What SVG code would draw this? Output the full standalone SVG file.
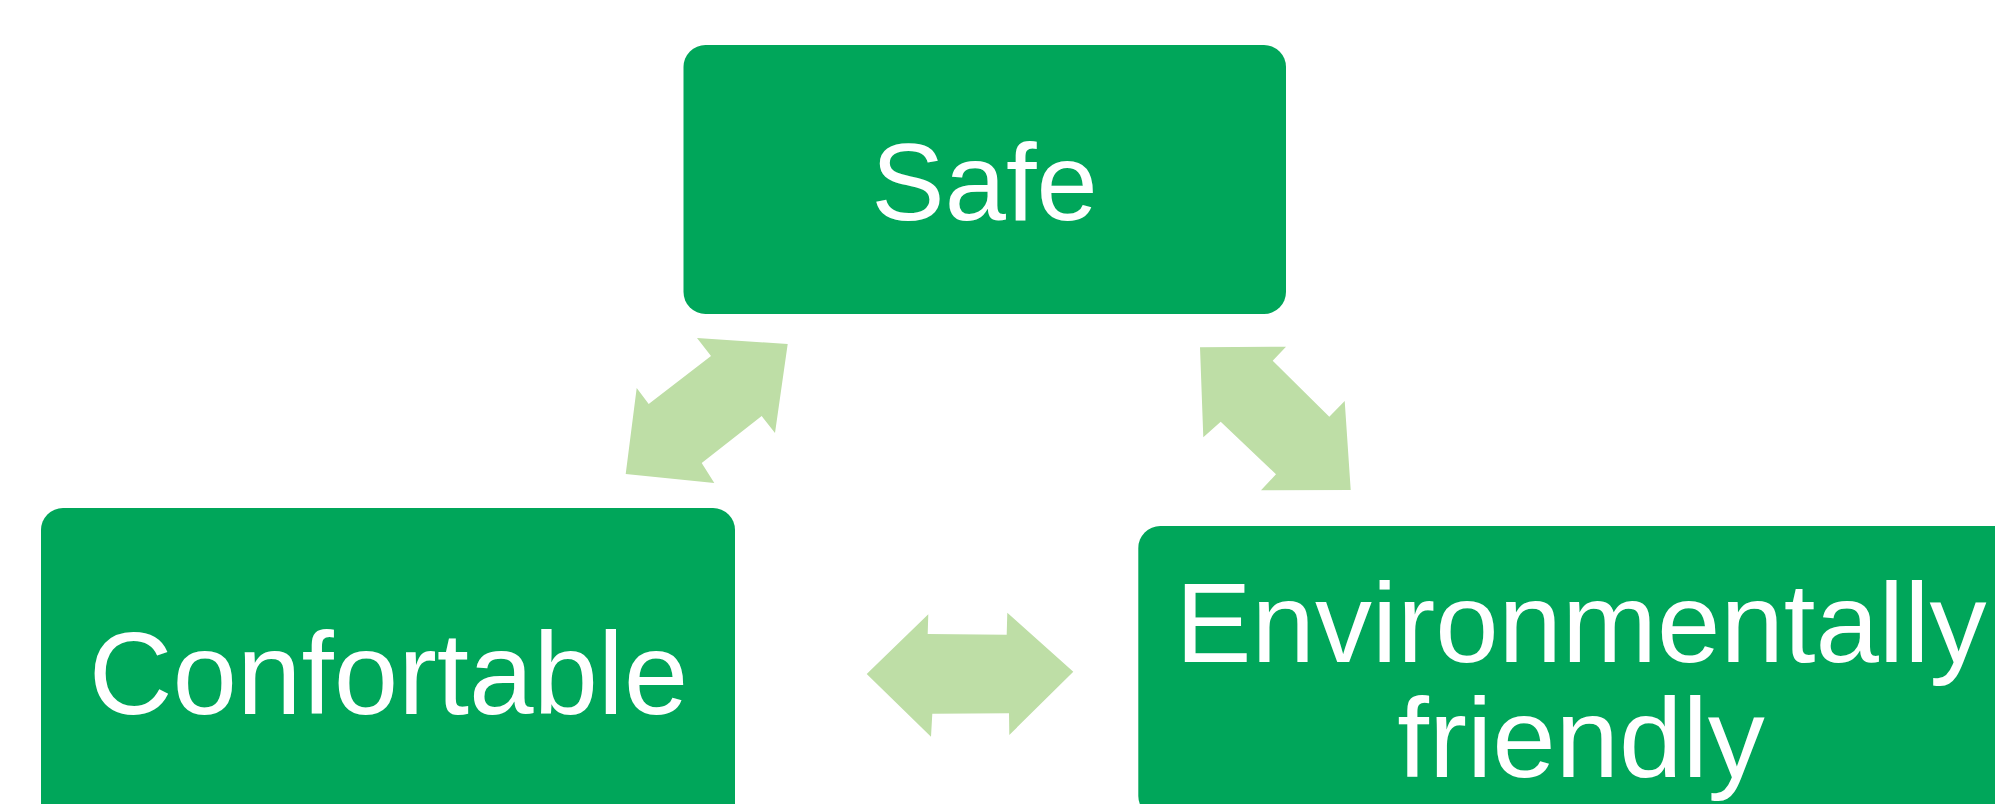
<svg xmlns="http://www.w3.org/2000/svg" width="1995" height="804" viewBox="0 0 1995 804">
<style>
.box{fill:#00A65A}
.arrow{fill:#BEDEA6}
.lbl{fill:#FFFFFF;font-family:"Liberation Sans",Arial,Helvetica,sans-serif}
</style>
<rect width="1995" height="804" fill="#FFFFFF"/>
<g id="connectors">
<polygon class="arrow" points="697,338 787.7,344 775,433 761.7,416 701.7,463 714.3,483 625.7,474 636.7,388 648.7,404 711,356"/>
<polygon class="arrow" points="1200,347.3 1286,346.7 1272.7,360.7 1329.3,416.7 1344.7,401 1350.7,490 1261,490.3 1276,474.3 1220.7,421.7 1203.3,437.3"/>
<polygon class="arrow" points="866.7,674 928.3,614.3 927.7,634 1006.7,634.7 1007.3,612.7 1073.3,671.7 1009.3,735 1009,713.3 932.3,713.7 931,736.7"/>
</g>
<g id="node-safe">
<rect class="box" x="683.5" y="45" width="602.5" height="269" rx="22" ry="22"/>
<text class="lbl" x="984.5" y="220" font-size="110" text-anchor="middle">Safe</text>
</g>
<g id="node-confortable">
<rect class="box" x="41" y="508" width="694" height="330" rx="22" ry="22"/>
<text class="lbl" x="388.5" y="714" font-size="116" text-anchor="middle">Confortable</text>
</g>
<g id="node-environmentally-friendly">
<rect class="box" x="1138.3" y="526" width="884" height="292" rx="22" ry="22"/>
<text class="lbl" x="1581" y="662" font-size="114" text-anchor="middle">Environmentally</text>
<text class="lbl" x="1581" y="777" font-size="114" text-anchor="middle">friendly</text>
</g>
</svg>
